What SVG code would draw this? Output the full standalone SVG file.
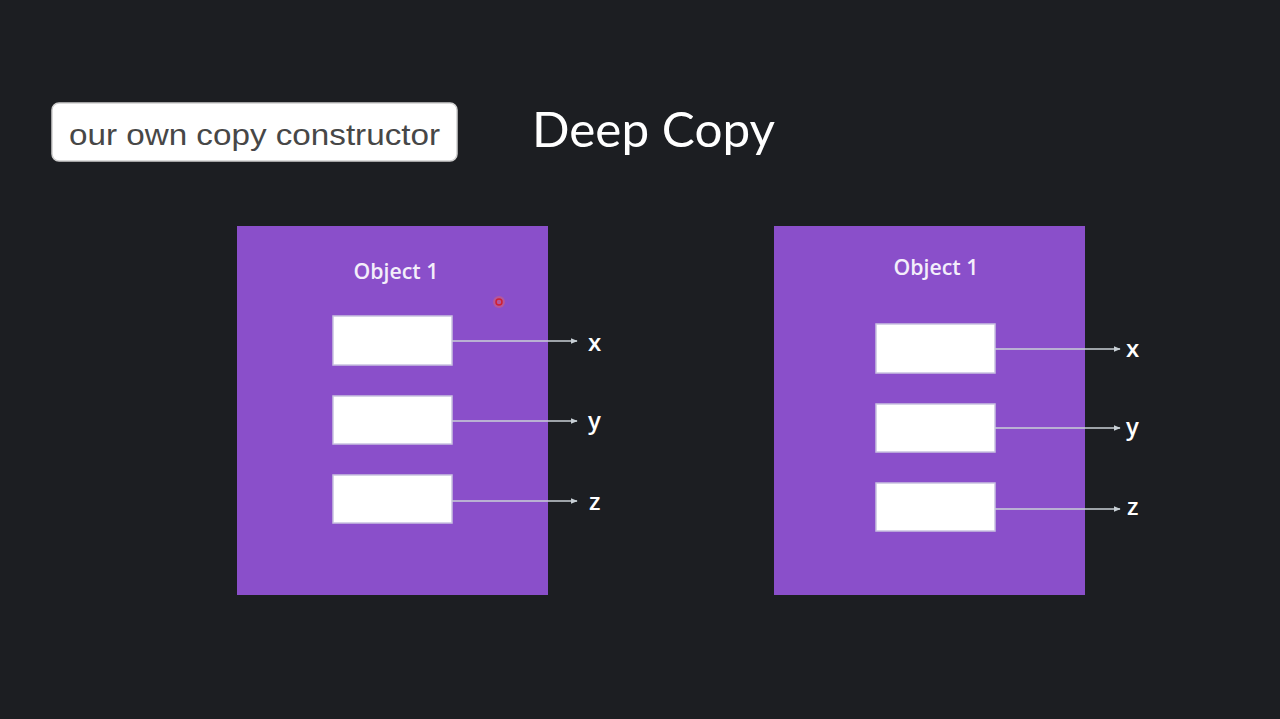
<svg xmlns="http://www.w3.org/2000/svg" width="1280" height="719" viewBox="0 0 1280 719">
<style>
.obj{fill:#8a4fca}
.slot{fill:#ffffff;stroke:#c9c2e0;stroke-width:1.5}
.title{font-family:"Open Sans","Noto Sans",sans-serif;font-weight:600;font-size:21px;fill:#f3eefa;text-anchor:middle}
.var{font-family:"Open Sans","Noto Sans",sans-serif;font-weight:600;font-size:24px;fill:#ffffff}
.conn{stroke:#c8d0d6;stroke-width:1.3;fill:none;marker-end:url(#ah)}
</style>
<defs>
<marker id="ah" viewBox="0 0 10 10" refX="9" refY="5" markerWidth="7" markerHeight="7" markerUnits="userSpaceOnUse" orient="auto">
<path d="M0,1 L10,5 L0,9 z" fill="#c8d0d6"/>
</marker>
</defs>
<rect width="1280" height="719" fill="#1c1e22"/>
<g id="label">
<rect x="52" y="103" width="405" height="58" rx="7" fill="#ffffff" stroke="#d0d0d0" stroke-width="1.5"/>
<text x="69" y="145" font-family="Liberation Sans,Arial,sans-serif" font-size="30" fill="#474747" textLength="371" lengthAdjust="spacingAndGlyphs">our own copy constructor</text>
</g>
<g id="heading">
<text x="532" y="147" font-family="Lato,'Noto Sans',sans-serif" font-weight="400" font-size="49" fill="#ffffff" textLength="243" lengthAdjust="spacingAndGlyphs">Deep Copy</text>
</g>
<g id="object-left">
<rect class="obj" x="237" y="226" width="311" height="369"/>
<text class="title" x="396" y="279" textLength="85" lengthAdjust="spacingAndGlyphs">Object 1</text>
<rect class="slot" x="333" y="316" width="119" height="49"/>
<rect class="slot" x="333" y="396" width="119" height="48"/>
<rect class="slot" x="333" y="475" width="119" height="48"/>
<circle cx="499" cy="302" r="6" fill="#e06070" opacity="0.5"/>
<circle cx="499" cy="302" r="3" fill="none" stroke="#d02030" stroke-width="1.5"/>
</g>
<g id="object-right">
<rect class="obj" x="774" y="226" width="311" height="369"/>
<text class="title" x="936" y="275" textLength="85" lengthAdjust="spacingAndGlyphs">Object 1</text>
<rect class="slot" x="876" y="324" width="119" height="49"/>
<rect class="slot" x="876" y="404" width="119" height="48"/>
<rect class="slot" x="876" y="483" width="119" height="48"/>
</g>
<g id="connectors">
<line class="conn" x1="452" y1="341" x2="577" y2="341"/>
<line class="conn" x1="452" y1="421" x2="577" y2="421"/>
<line class="conn" x1="452" y1="501" x2="577" y2="501"/>
<line class="conn" x1="995" y1="349" x2="1120" y2="349"/>
<line class="conn" x1="995" y1="428" x2="1120" y2="428"/>
<line class="conn" x1="995" y1="509" x2="1120" y2="509"/>
</g>
<g id="labels">
<text class="var" x="588" y="351">x</text>
<text class="var" x="588" y="429">y</text>
<text class="var" x="589" y="510">z</text>
<text class="var" x="1126" y="357">x</text>
<text class="var" x="1126" y="435">y</text>
<text class="var" x="1127" y="515">z</text>
</g>
</svg>
